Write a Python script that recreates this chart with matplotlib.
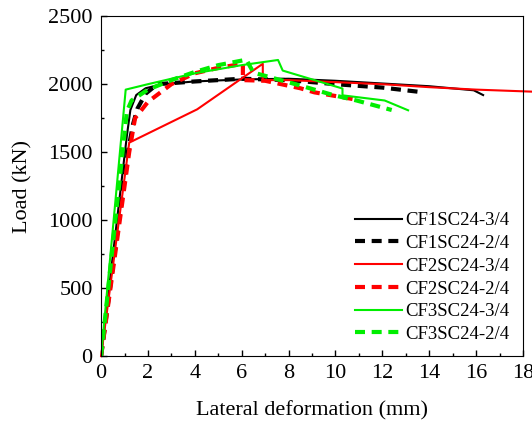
import matplotlib
matplotlib.use("Agg")
import matplotlib.pyplot as plt
from matplotlib.ticker import MultipleLocator

plt.rcParams['font.family'] = ['Liberation Serif', 'DejaVu Serif']

# --- curve data (lateral deformation mm, load kN) ---
cf1_34_x = [0, 1.1, 1.25, 1.5, 1.9, 2.6, 4, 6, 8, 10, 12, 14, 15.9, 16.3]
cf1_34_y = [0, 1620, 1810, 1920, 1970, 2000, 2020, 2035, 2040, 2025, 2005, 1985, 1955, 1920]

cf1_24_x = [0, 1.15, 1.37, 1.55, 1.9, 2.4, 4, 6, 8, 10, 12, 13.5]
cf1_24_y = [0, 1510, 1710, 1820, 1930, 2000, 2020, 2040, 2030, 2000, 1975, 1945]

cf2_34_x = [0, 1.2, 4.1, 6.9, 6.9, 8, 10, 12, 14, 16, 18.4]
cf2_34_y = [0, 1570, 1815, 2150, 2030, 2030, 2015, 2000, 1978, 1960, 1945]

cf2_24_x = [0, 1.2, 1.45, 2, 3, 4, 5, 6.05, 6.05, 7, 8.5, 9.1, 10.6, 10.9]
cf2_24_y = [0, 1500, 1750, 1870, 2000, 2080, 2120, 2150, 2030, 2025, 1970, 1940, 1895, 1885]

cf3_34_x = [0, 1.05, 2, 4, 6, 7.55, 7.75, 10.3, 10.3, 12.1, 13.1]
cf3_34_y = [0, 1960, 2000, 2080, 2140, 2178, 2100, 1968, 1918, 1880, 1808]

cf3_24_x = [0, 1.1, 1.3, 2, 3, 4, 5, 6.2, 6.5, 8.5, 9.9, 10.9, 12.4]
cf3_24_y = [0, 1800, 1880, 1960, 2030, 2090, 2140, 2180, 2085, 1990, 1920, 1880, 1810]

labels = ['CF1SC24-3/4', 'CF1SC24-2/4', 'CF2SC24-3/4',
          'CF2SC24-2/4', 'CF3SC24-3/4', 'CF3SC24-2/4']

red = '#ff0000'
green = '#00ee00'

fig = plt.figure(figsize=(5.32, 4.26), dpi=100)
ax = fig.add_axes([0.19, 0.164, 0.793, 0.798])

lw_s, lw_d = 1.5, 3.0
dash = (2.4, 1.6)
ax.plot(cf1_34_x, cf1_34_y, color='black', lw=lw_s, label=labels[0])
ax.plot(cf1_24_x, cf1_24_y, color='black', lw=lw_d, ls=(0, dash), label=labels[1])
ax.plot(cf2_34_x, cf2_34_y, color=red, lw=lw_s, label=labels[2], clip_on=False)
ax.plot(cf2_24_x, cf2_24_y, color=red, lw=lw_d, ls=(0, dash), label=labels[3])
ax.plot(cf3_34_x, cf3_34_y, color=green, lw=lw_s, label=labels[4])
ax.plot(cf3_24_x, cf3_24_y, color=green, lw=lw_d, ls=(0, dash), label=labels[5])

ax.set_xlim(0, 18)
ax.set_ylim(0, 2500)
ax.xaxis.set_major_locator(MultipleLocator(2))
ax.xaxis.set_minor_locator(MultipleLocator(1))
ax.yaxis.set_major_locator(MultipleLocator(500))
ax.yaxis.set_minor_locator(MultipleLocator(250))
ax.tick_params(which='both', direction='in', labelsize=16, pad=6)
ax.tick_params(which='major', length=4, width=1)
ax.tick_params(which='minor', length=2.5, width=1)

ax.set_xlabel('Lateral deformation (mm)', fontsize=16, labelpad=13)
ax.set_ylabel('Load (kN)', fontsize=16, labelpad=11)

ax.legend(loc='lower right', frameon=False, fontsize=13.5, handlelength=2.5,
          handletextpad=0.2, labelspacing=0.3, borderaxespad=0.3)

fig.savefig('out.png', dpi=100)
